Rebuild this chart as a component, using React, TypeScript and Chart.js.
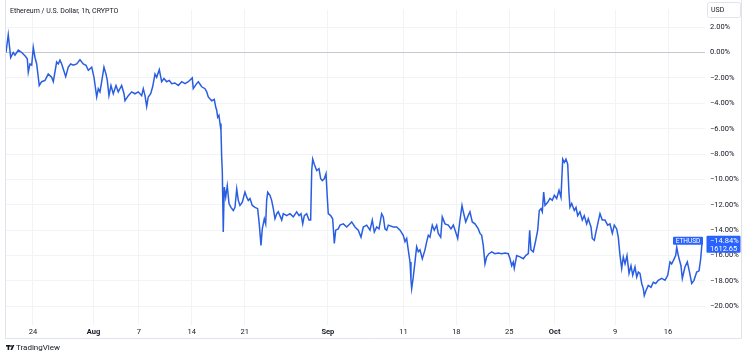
import React, { useEffect, useRef } from "react";
import { Chart, registerables } from "chart.js";

Chart.register(...registerables);

const TITLE = "Ethereum / U.S. Dollar, 1h, CRYPTO";
const SYMBOL = "ETHUSD";
const LAST_PRICE = "1612.65";
const CURRENCY = "USD";
const BRAND = "TradingView";

// x = days since Jul 1 (00:00), tick positions for the time axis
const xTickDays = [23, 31, 37, 44, 51, 62, 72, 79, 86, 92, 100, 107];
const xTickLabels = ["24", "Aug", "7", "14", "21", "Sep", "11", "18", "25", "Oct", "9", "16"];
const xTickIsMonth = [false, true, false, false, false, true, false, false, false, true, false, false];

const yTicks = [-20, -18, -16, -14, -12, -10, -8, -6, -4, -2, 0, 2];

// [day since Jul 1, % change from first bar]
const ethPoints: [number, number][] = [
  [19.43, 0], [19.73, 1.4], [20.05, -0.4], [20.39, 0], [20.62, -0.2], [21.06, 0.2], [21.51, 0],
  [21.94, -0.25], [22.25, -0.5], [22.38, -1.55], [22.6, -0.9], [22.83, -1.0], [23.04, 0.4],
  [23.26, -0.37], [23.49, -0.9], [23.7, -1.95], [23.83, -2.6], [24.15, -2.3], [24.59, -2.2],
  [25.02, -1.7], [25.47, -1.95], [25.69, -2.3], [26.13, -0.75], [26.35, -0.9], [26.57, -0.6],
  [26.8, -0.9], [27.01, -1.3], [27.33, -1.9], [27.67, -1.15], [27.99, -0.9], [28.33, -1.0],
  [28.78, -0.9], [29.22, -0.57], [29.65, -0.9], [30.01, -1.0], [30.32, -1.4], [30.77, -1.15],
  [31.07, -1.95], [31.43, -3.5], [31.64, -2.85], [31.86, -3.1], [32.09, -2.3], [32.39, -1.15],
  [32.66, -1.7], [32.83, -2.2], [33.05, -3.4], [33.32, -2.6], [33.62, -3.25], [33.98, -2.6],
  [34.28, -3.1], [34.73, -2.6], [35.04, -3.25], [35.17, -3.8], [35.61, -3.4], [36.06, -3.1],
  [36.49, -3.25], [36.93, -3.1], [37.38, -3.4], [37.59, -2.85], [37.82, -3.4], [38.04, -4.25],
  [38.25, -3.5], [38.57, -3.25], [38.83, -2.7], [39.14, -1.7], [39.36, -1.95], [39.71, -1.35],
  [40.02, -2.3], [40.33, -2.05], [40.69, -2.3], [41.03, -2.2], [41.35, -2.45], [41.78, -2.4],
  [42.22, -2.6], [42.67, -2.3], [43.11, -2.45], [43.54, -2.3], [44.07, -2.0], [44.2, -2.85],
  [44.65, -2.45], [44.87, -2.3], [45.32, -2.7], [45.75, -2.85], [45.98, -3.1], [46.19, -3.5],
  [46.64, -3.8], [46.98, -3.7], [47.17, -4.3], [47.3, -4.55], [47.43, -5.1], [47.6, -4.95],
  [47.74, -5.6], [47.87, -6.15], [47.96, -8.25], [48.04, -9.3], [48.17, -14.15], [48.3, -10.6],
  [48.49, -11.4], [48.7, -10.5], [48.93, -11.9], [49.19, -12.2], [49.5, -12.45], [49.72, -12.2],
  [49.95, -10.75], [50.16, -11.65], [50.38, -12.05], [50.69, -11.8], [51.04, -11.0], [51.27, -11.4],
  [51.48, -11.65], [51.7, -11.5], [52.01, -12.05], [52.37, -12.2], [52.72, -12.3], [52.93, -13.5],
  [53.16, -15.2], [53.33, -13.9], [53.6, -13.1], [53.78, -13.5], [53.91, -11.65], [54.05, -11.0],
  [54.35, -11.25], [54.57, -11.65], [54.79, -12.3], [55.01, -13.1], [55.24, -12.7], [55.45, -12.55],
  [55.9, -13.2], [56.11, -12.7], [56.56, -12.85], [56.99, -12.7], [57.43, -12.95], [57.88, -12.55],
  [58.19, -12.85], [58.45, -12.7], [58.68, -13.5], [58.89, -12.85], [59.2, -12.7], [59.51, -13.2],
  [59.73, -13.2], [59.87, -9.3], [60.0, -8.4], [60.21, -8.8], [60.53, -9.3], [60.83, -9.15],
  [61.06, -9.95], [61.27, -10.1], [61.53, -9.95], [61.76, -9.55], [61.93, -11.4], [62.06, -12.7],
  [62.38, -12.85], [62.64, -13.1], [62.86, -15.05], [63.04, -14.0], [63.38, -13.9], [63.61, -13.6],
  [64.05, -13.5], [64.5, -13.75], [64.93, -13.5], [65.16, -13.35], [65.59, -13.75], [66.03, -14.0],
  [66.39, -14.55], [66.69, -13.75], [67.14, -13.6], [67.58, -14.0], [67.88, -13.2], [68.15, -14.15],
  [68.46, -13.75], [68.77, -13.9], [69.12, -12.7], [69.34, -12.95], [69.56, -13.9], [69.79, -14.0],
  [70.0, -13.6], [70.66, -13.75], [71.11, -13.75], [71.55, -14.0], [71.98, -14.4], [72.21, -14.9],
  [72.43, -14.65], [72.64, -15.55], [72.87, -16.5], [73.0, -17.95], [73.09, -18.6], [73.3, -17.7],
  [73.53, -16.5], [73.75, -15.3], [73.97, -15.7], [74.19, -15.55], [74.5, -16.25], [74.85, -15.55],
  [75.08, -14.9], [75.29, -14.4], [75.51, -14.55], [75.82, -13.6], [76.08, -14.0], [76.4, -13.6],
  [76.61, -14.25], [76.93, -14.55], [77.14, -12.95], [77.5, -13.5], [77.93, -13.6], [78.29, -13.9],
  [78.6, -13.6], [78.91, -14.15], [79.18, -14.65], [79.48, -13.2], [79.75, -12.05], [79.92, -12.55],
  [80.24, -13.35], [80.5, -12.95], [80.8, -12.55], [81.11, -13.35], [81.47, -13.5], [81.9, -13.9],
  [82.13, -14.25], [82.35, -14.4], [82.56, -15.2], [82.79, -16.65], [83.01, -16.1], [83.32, -15.85],
  [83.68, -15.7], [84.11, -15.85], [84.55, -15.8], [85.0, -15.85], [85.43, -15.8], [85.87, -15.85],
  [86.1, -16.25], [86.32, -16.8], [86.53, -16.5], [86.66, -17.0], [86.98, -16.0], [87.42, -16.1],
  [87.86, -16.25], [88.17, -16.0], [88.52, -15.85], [88.7, -14.0], [88.87, -15.55], [89.18, -15.7],
  [89.5, -14.8], [89.76, -14.0], [89.97, -12.45], [90.2, -12.3], [90.37, -12.55], [90.55, -11.0],
  [90.73, -12.05], [91.08, -11.8], [91.39, -11.5], [91.69, -11.65], [91.96, -11.25], [92.27, -11.5],
  [92.58, -10.85], [92.84, -11.4], [93.07, -8.4], [93.28, -8.65], [93.5, -8.4], [93.73, -8.8],
  [93.9, -11.1], [94.03, -12.2], [94.26, -11.9], [94.6, -12.45], [94.83, -12.2], [95.05, -12.85],
  [95.35, -12.55], [95.66, -13.2], [95.92, -12.85], [96.24, -13.5], [96.45, -13.1], [96.81, -13.75],
  [96.98, -14.65], [97.25, -14.8], [97.43, -14.25], [97.7, -13.5], [98.0, -12.7], [98.3, -13.2],
  [98.66, -13.2], [99.02, -13.6], [99.32, -13.5], [99.63, -14.25], [99.89, -13.6], [100.21, -13.9],
  [100.42, -14.55], [100.65, -16.0], [100.87, -17.0], [101.08, -16.1], [101.31, -16.65], [101.57, -16.0],
  [101.84, -17.4], [102.1, -16.8], [102.33, -17.55], [102.63, -16.9], [102.86, -17.7], [103.07, -17.3],
  [103.29, -17.4], [103.52, -18.2], [103.73, -18.6], [103.86, -19.15], [104.09, -18.75], [104.39, -18.35],
  [104.75, -18.5], [105.05, -18.1], [105.37, -18.2], [105.71, -17.95], [106.16, -17.8], [106.6, -17.95],
  [106.96, -17.55], [107.26, -16.5], [107.48, -16.65], [107.7, -16.4], [108.01, -16.0], [108.15, -15.35],
  [108.36, -16.0], [108.71, -16.8], [108.89, -17.8], [109.24, -16.9], [109.55, -16.5], [109.81, -17.2],
  [110.13, -18.2], [110.43, -17.95], [110.79, -17.3], [111.1, -17.2], [111.32, -16.25], [111.45, -15.3],
  [111.53, -14.84],
];

const FONT = "Roboto, 'Liberation Sans', Arial, sans-serif";
const TEXT = "#131722";
const BLUE = "#2a5ee0";
const LABEL_BLUE = "#2962ff";
const GRID = "#f2f3f7";
const FRAME = "#e0e3eb";

function fmtPct(v: number): string {
  const s = Math.abs(v).toFixed(2) + "%";
  return v < 0 ? "\u2212" + s : s;
}

const deco = {
  id: "deco",
  afterDraw(chart: any) {
    const { ctx, chartArea, scales } = chart;
    ctx.save();
    // outer frame
    ctx.strokeStyle = FRAME;
    ctx.lineWidth = 1;
    ctx.beginPath();
    ctx.moveTo(5.5, 0);
    ctx.lineTo(5.5, 338.5);
    ctx.lineTo(741.5, 338.5);
    ctx.lineTo(741.5, 0);
    ctx.stroke();

    // title
    ctx.fillStyle = TEXT;
    ctx.font = `7px ${FONT}`;
    ctx.textBaseline = "middle";
    ctx.textAlign = "left";
    ctx.fillText(TITLE, 10, 11);

    // currency box
    ctx.fillStyle = "#ffffff";
    ctx.strokeStyle = FRAME;
    ctx.beginPath();
    (ctx as any).roundRect(707.5, 2.5, 33, 15, 2);
    ctx.fill();
    ctx.stroke();
    ctx.fillStyle = TEXT;
    ctx.font = `7px ${FONT}`;
    ctx.fillText(CURRENCY, 711, 10.5);

    // last value labels
    const last = ethPoints[ethPoints.length - 1][1];
    const y = scales.y.getPixelForValue(last);
    ctx.fillStyle = LABEL_BLUE;
    ctx.beginPath();
    (ctx as any).roundRect(chartArea.right - 32, y - 4, 30, 8, 1);
    ctx.fill();
    ctx.fillStyle = "#ffffff";
    ctx.font = `6.5px ${FONT}`;
    ctx.textAlign = "center";
    ctx.fillText(SYMBOL, chartArea.right - 17, y + 0.3);

    ctx.fillStyle = LABEL_BLUE;
    ctx.beginPath();
    (ctx as any).roundRect(chartArea.right + 1.5, y - 5, 34, 17, 1);
    ctx.fill();
    ctx.fillStyle = "#ffffff";
    ctx.font = `7.5px ${FONT}`;
    ctx.textAlign = "left";
    ctx.fillText(fmtPct(last), 710, y + 0.5);
    ctx.fillText(LAST_PRICE, 710, y + 8.5);

    // brand logo + text
    ctx.fillStyle = TEXT;
    ctx.fillRect(6, 345, 4, 1.6);
    ctx.fillRect(7.6, 345, 1.6, 5);
    ctx.beginPath();
    ctx.arc(11, 346, 0.9, 0, Math.PI * 2);
    ctx.fill();
    ctx.beginPath();
    ctx.moveTo(12.6, 345);
    ctx.lineTo(14.4, 345);
    ctx.lineTo(12.2, 350);
    ctx.lineTo(10.4, 350);
    ctx.closePath();
    ctx.fill();
    ctx.font = `8px ${FONT}`;
    ctx.textAlign = "left";
    ctx.fillText(BRAND, 16, 348);
    ctx.restore();
  },
};

export default function App() {
  const ref = useRef<HTMLCanvasElement | null>(null);
  useEffect(() => {
    document.body.style.margin = "0";
    const canvas = ref.current;
    if (!canvas) return;
    const chart = new Chart(canvas, {
      type: "line",
      data: {
        datasets: [
          {
            data: ethPoints.map(([x, y]) => ({ x, y })),
            borderColor: BLUE,
            borderWidth: 1.5,
            pointRadius: 0,
            tension: 0,
            fill: false,
            clip: 8,
          },
        ],
      },
      options: {
        animation: false,
        responsive: false,
        maintainAspectRatio: false,
        layout: { autoPadding: false, padding: { left: 5, top: 3, right: 5, bottom: 20 } },
        plugins: {
          legend: { display: false },
          tooltip: { enabled: false },
          title: { display: false },
        },
        scales: {
          x: {
            type: "linear",
            min: 19.3,
            max: 111.89,
            afterBuildTicks: (s: any) => {
              s.ticks = xTickDays.map((v) => ({ value: v }));
            },
            afterFit: (s: any) => {
              s.height = 13;
            },
            grid: { color: GRID, drawTicks: false },
            border: { display: false },
            ticks: {
              padding: 3,
              maxRotation: 0,
              autoSkip: false,
              color: TEXT,
              font: (c: any) => ({
                family: FONT,
                size: 7.5,
                weight: xTickIsMonth[c.index] ? "bold" : "normal",
              }),
              callback: (_v: any, i: number) => xTickLabels[i],
            },
          },
          y: {
            type: "linear",
            position: "right",
            min: -21.47,
            max: 3.39,
            afterBuildTicks: (s: any) => {
              s.ticks = yTicks.map((v) => ({ value: v }));
            },
            afterFit: (s: any) => {
              s.width = 40;
            },
            grid: {
              color: (c: any) => (c.tick && c.tick.value === 0 ? "#c5c8cf" : GRID),
              drawTicks: false,
            },
            border: { display: false },
            ticks: {
              padding: 5,
              color: TEXT,
              font: { family: FONT, size: 7.5 },
              callback: (v: any) => fmtPct(Number(v)),
            },
          },
        },
      },
      plugins: [deco],
    } as any);
    return () => chart.destroy();
  }, []);
  return (
    <div style={{ position: "relative", width: 750, height: 358 }}>
      <canvas ref={ref} width={750} height={358} style={{ display: "block" }} />
    </div>
  );
}
